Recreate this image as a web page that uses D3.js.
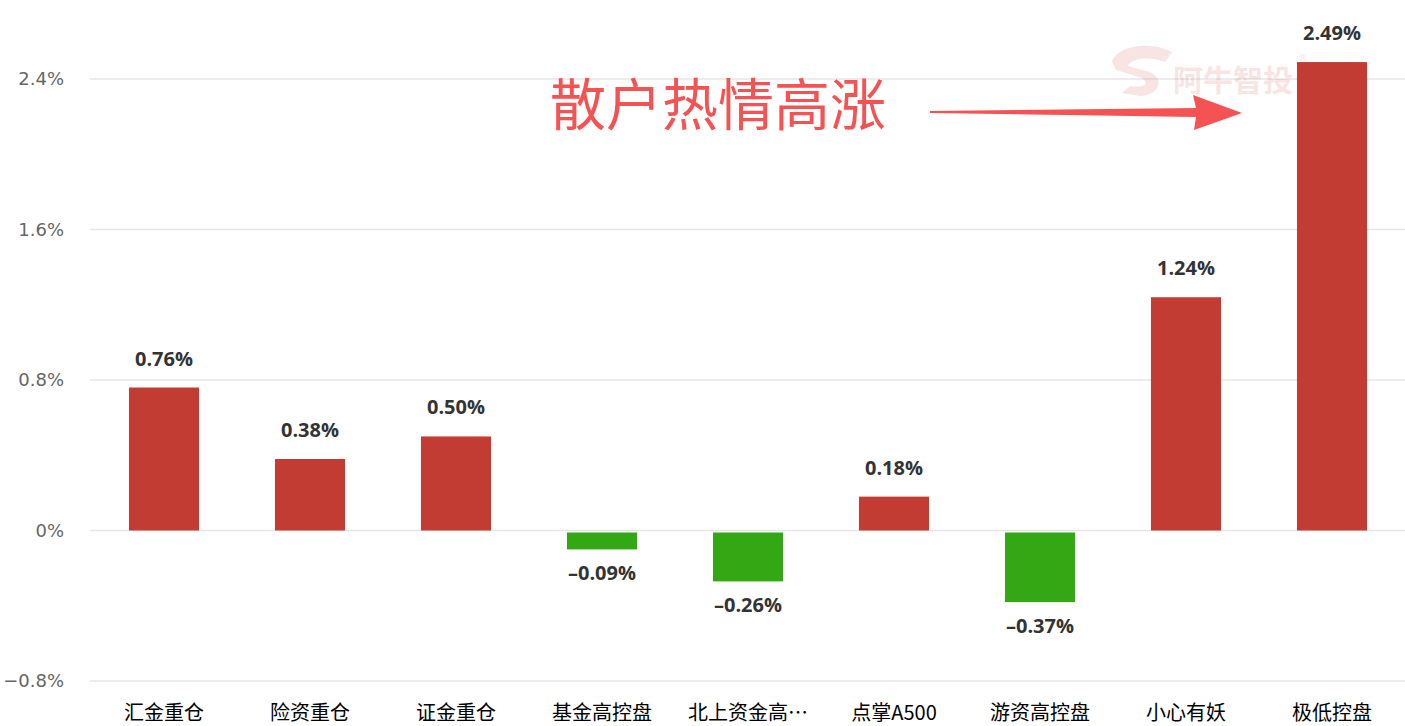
<!DOCTYPE html>
<html>
<head>
<meta charset="utf-8">
<script src="https://cdn.jsdelivr.net/npm/d3@7"></script>
<style>
  body { margin: 0; background: #fff; }
  svg { display: block; }
</style>
</head>
<body>
<div id="chart"></div>
<script>
const width = 1405;
const height = 726;

const categories = ["汇金重仓", "险资重仓", "证金重仓", "基金高控盘", "北上资金高…", "点掌A500", "游资高控盘", "小心有妖", "极低控盘"];
const values = [0.76, 0.38, 0.50, -0.09, -0.26, 0.18, -0.37, 1.24, 2.49];
const yTicks = [-0.8, 0, 0.8, 1.6, 2.4];
const yTickLabels = ["−0.8%", "0%", "0.8%", "1.6%", "2.4%"];
const annotation = "散户热情高涨";

const margin = {top: 0, right: 0, left: 90, bottom: 45};

const svg = d3.select("#chart").append("svg")
    .attr("width", width)
    .attr("height", height);

const x = d3.scaleBand()
    .domain(categories)
    .range([margin.left + 1, width - margin.right])
    .paddingInner(0.52)
    .paddingOuter(0.26);

// 0% sits at y=531, 0.8% step = 150.5px
const y = d3.scaleLinear()
    .domain([-0.8, 2.4])
    .range([681, 79]);

// gridlines
svg.append("g")
    .selectAll("line")
    .data(yTicks)
    .join("line")
    .attr("x1", margin.left)
    .attr("x2", width)
    .attr("y1", d => y(d))
    .attr("y2", d => y(d))
    .attr("stroke", "#e6e6e6")
    .attr("stroke-width", 1.5);

// y labels
svg.append("g")
    .selectAll("text")
    .data(yTicks)
    .join("text")
    .attr("x", 64)
    .attr("y", d => y(d))
    .attr("dy", "0.36em")
    .attr("text-anchor", "end")
    .attr("font-family", "DejaVu Sans, sans-serif")
    .attr("font-size", 18)
    .attr("fill", "#666")
    .text((d, i) => yTickLabels[i]);

// watermark
const wm = svg.append("g").attr("opacity", 0.13).attr("fill", "#d63b3b");
wm.append("text")
    .attr("x", 1173)
    .attr("y", 91)
    .attr("font-family", "Noto Sans CJK SC, sans-serif")
    .attr("font-weight", "bold")
    .attr("font-size", 30)
    .text("阿牛智投");
wm.append("path")
    .attr("d", "M1112,62 C1116,46 1150,40 1172,52 L1165,62 C1148,56 1132,58 1128,66 L1150,72 C1166,80 1158,96 1140,96 L1122,93 L1130,86 C1145,88 1150,84 1142,78 L1116,70 Z");
wm.append("text")
    .attr("x", 1298)
    .attr("y", 62)
    .attr("font-size", 10)
    .attr("font-family", "DejaVu Sans, sans-serif")
    .text("®");

// bars
svg.append("g")
    .selectAll("rect")
    .data(values)
    .join("rect")
    .attr("x", (d, i) => x(categories[i]))
    .attr("width", x.bandwidth())
    .attr("y", d => d >= 0 ? y(d) : y(0) + 2)
    .attr("height", d => Math.abs(y(d) - y(0)))
    .attr("fill", d => d >= 0 ? "#c23c33" : "#33a814");

// value labels
svg.append("g")
    .selectAll("text")
    .data(values)
    .join("text")
    .attr("x", (d, i) => x(categories[i]) + x.bandwidth() / 2)
    .attr("y", d => d >= 0 ? y(d) - 22 : y(d) + 33)
    .attr("text-anchor", "middle")
    .attr("font-family", "Open Sans, sans-serif")
    .attr("font-weight", "bold")
    .attr("font-size", 20)
    .attr("fill", "#333")
    .text(d => (d < 0 ? "–" : "") + Math.abs(d).toFixed(2) + "%");

// category labels
svg.append("g")
    .selectAll("text")
    .data(categories)
    .join("text")
    .attr("x", d => x(d) + x.bandwidth() / 2)
    .attr("y", 720)
    .attr("text-anchor", "middle")
    .attr("font-family", "Noto Sans CJK SC, sans-serif")
    .attr("font-size", 20)
    .attr("fill", "#000")
    .text(d => d);

// annotation text + arrow
svg.append("text")
    .attr("x", 550)
    .attr("y", 125)
    .attr("font-family", "Noto Sans CJK SC, sans-serif")
    .attr("font-size", 56)
    .attr("fill", "#f55353")
    .text(annotation);

svg.append("path")
    .attr("d", "M930,111 L1196,108 L1193,95 L1242,113 L1194,130 L1196,117 L930,113 Z")
    .attr("fill", "#f55353");
</script>
</body>
</html>
